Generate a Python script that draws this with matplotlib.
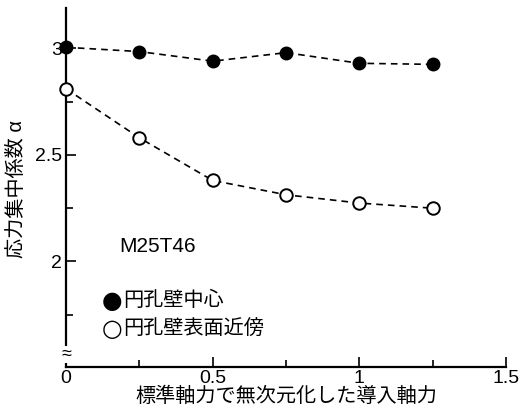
import matplotlib
matplotlib.use("Agg")
import matplotlib.pyplot as plt

plt.rcParams['font.family'] = ['Liberation Sans', 'Noto Sans CJK JP']

# 導入軸力（標準軸力で無次元化）
axial = [0, 0.25, 0.5, 0.75, 1.0, 1.25]
# 応力集中係数
alpha_center = [3.005, 2.985, 2.94, 2.98, 2.93, 2.925]
alpha_surface = [2.81, 2.58, 2.38, 2.313, 2.274, 2.25]

fig = plt.figure(figsize=(5.21, 4.16), dpi=100)
ax = fig.add_axes([0.127, 0.118, 0.844, 0.863])

ax.plot(axial, alpha_center, linestyle='--', dashes=(4, 3), color='black', lw=1.2,
        marker='o', markersize=9, markerfacecolor='black', markeredgecolor='black',
        clip_on=False, zorder=5)
ax.plot(axial, alpha_surface, linestyle='--', dashes=(4, 3), color='black', lw=1.2,
        marker='o', markersize=9, markerfacecolor='white', markeredgecolor='black',
        markeredgewidth=1.4, clip_on=False, zorder=5)

ax.set_xlim(0, 1.5)
ax.set_ylim(1.505, 3.19)
ax.set_xticks([0, 0.5, 1, 1.5])
ax.set_xticks([0.25, 0.75, 1.25], minor=True)
ax.set_xticklabels(['0', '0.5', '1', '1.5'])
ax.set_yticks([2, 2.5, 3])
ax.set_yticks([1.75, 2.25, 2.75], minor=True)
ax.set_yticklabels(['2', '2.5', '3'])

ax.tick_params(which='both', direction='in', labelsize=14, width=1.2)
ax.tick_params(which='major', length=7)
ax.tick_params(which='minor', length=5)
ax.tick_params(axis='y', pad=3)
ax.tick_params(axis='x', pad=2)

for s in ['top', 'right']:
    ax.spines[s].set_visible(False)
for s in ['left', 'bottom']:
    ax.spines[s].set_linewidth(1.6)

ax.set_xlabel('標準軸力で無次元化した導入軸力', fontsize=14.5, labelpad=0)
ax.set_ylabel('応力集中係数 α', fontsize=14.5)
ax.yaxis.set_label_coords(-0.091, 0.496)

# 軸の省略記号
ax.text(0, 1.565, '≈', fontsize=13, ha='center', va='center',
        transform=ax.get_yaxis_transform(), zorder=6,
        bbox=dict(facecolor='white', edgecolor='none', pad=0))

ax.text(0.181, 2.069, 'M25T46', fontsize=15, ha='left', va='center')
ax.text(0.155, 1.815, '●', fontsize=17, ha='center', va='center', family='DejaVu Sans')
ax.text(0.194, 1.815, '円孔壁中心', fontsize=14.5, ha='left', va='center')
ax.text(0.155, 1.683, '○', fontsize=17, ha='center', va='center', family='DejaVu Sans')
ax.text(0.194, 1.683, '円孔壁表面近傍', fontsize=14.5, ha='left', va='center')

fig.savefig('out.png', dpi=100)
